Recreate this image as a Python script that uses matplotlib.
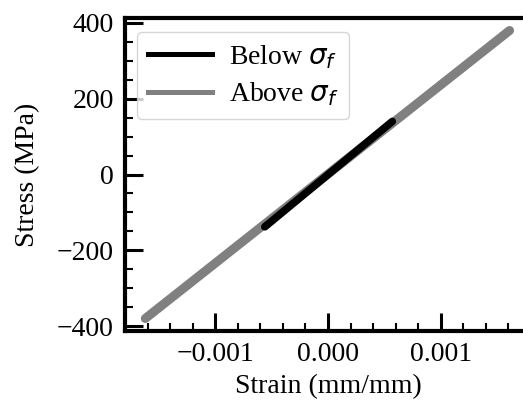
import numpy as np
import matplotlib
matplotlib.use('Agg')
import matplotlib.pyplot as plt
from matplotlib.ticker import MultipleLocator

plt.rcParams['font.family'] = ['Liberation Serif', 'DejaVu Serif']
plt.rcParams['mathtext.fontset'] = 'dejavusans'
plt.rcParams['font.size'] = 20

# data
below_strain = [-0.00056, 0.00057]
below_stress = [-138, 140]
above_strain = [-0.00162, 0.00161]
above_stress = [-380, 380]

fig = plt.figure(figsize=(5.23, 4.05), dpi=100)
ax = fig.add_axes([125/523, 1-331/405, (531-125)/523, (331-18)/405])

ax.plot(above_strain, above_stress, color='gray', lw=6.5, solid_capstyle='round', zorder=2)
ax.plot(below_strain, below_stress, color='black', lw=5.5, solid_capstyle='round', zorder=3)
# legend handles
ax.plot([], [], color='black', lw=3.6, label=r'Below $\sigma_f$')
ax.plot([], [], color='gray', lw=3.6, label=r'Above $\sigma_f$')

ax.set_xlim(-0.0018, 0.0018)
ax.set_ylim(-413, 413)
ax.xaxis.set_major_locator(MultipleLocator(0.001))
ax.xaxis.set_minor_locator(MultipleLocator(0.0002))
ax.yaxis.set_major_locator(MultipleLocator(200))
ax.yaxis.set_minor_locator(MultipleLocator(50))
ax.set_xticks([-0.001, 0, 0.001])
ax.set_xticklabels(['\u22120.001', '0.000', '0.001'])

ax.tick_params(which='major', direction='in', length=13, width=2.2, pad=8)
ax.tick_params(which='minor', direction='in', length=6, width=1.5)
for s in ax.spines.values():
    s.set_linewidth(3)

ax.set_xlabel('Strain (mm/mm)', labelpad=5)
ax.set_ylabel('Stress (MPa)', labelpad=12)

ax.legend(loc='upper left', handlelength=2.3, handletextpad=0.6,
          borderpad=0.4, labelspacing=0.35, bbox_to_anchor=(-0.005, 1.0))

fig.savefig('out.png', dpi=100)
